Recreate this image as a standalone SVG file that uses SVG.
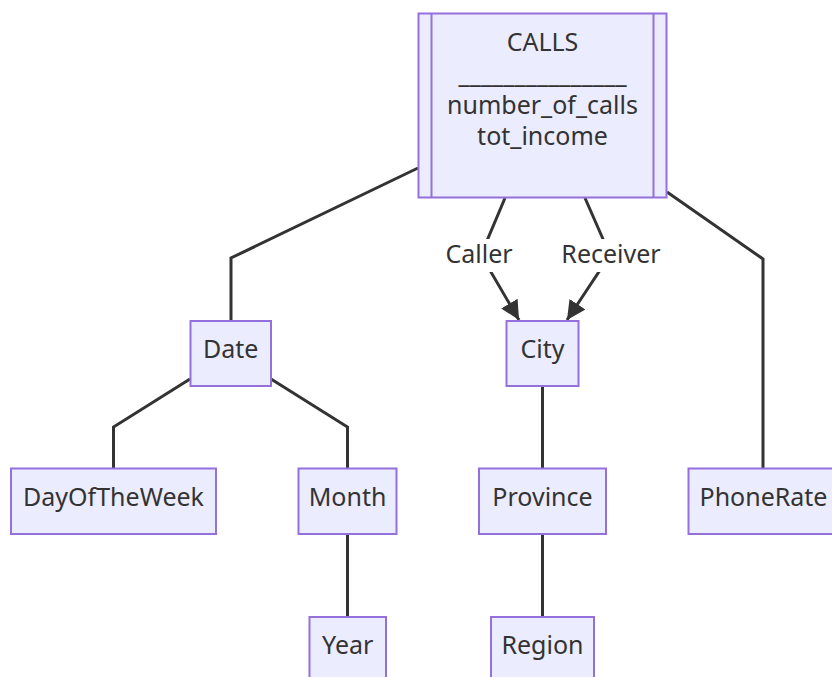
<svg xmlns="http://www.w3.org/2000/svg" width="832" height="677" viewBox="0 0 832 677">
<style>
.node rect{fill:#ECECFF;stroke:#9370DB;stroke-width:2}
.node line{stroke:#9370DB;stroke-width:2}
text{font-family:"Noto Sans","Liberation Sans",sans-serif;font-size:25px;fill:#333;text-anchor:middle}
.edge{fill:none;stroke:#333;stroke-width:3}
.lblbg{fill:#fff}
</style>
<defs>
<marker id="arrow" viewBox="0 0 10 10" refX="10" refY="5" markerUnits="userSpaceOnUse" markerWidth="19" markerHeight="19" orient="auto">
<path d="M0,0 L10,5 L0,10 z" fill="#333"/>
</marker>
</defs>
<rect width="832" height="677" fill="#fff"/>
<g id="connectors">
<polyline class="edge" points="418,168 231,258 231,321"/>
<polyline class="edge" points="667,192 763,259 763,468"/>
<polyline class="edge" points="190,379 113.5,427 113.5,468"/>
<polyline class="edge" points="271,379 347.5,427 347.5,468"/>
<line class="edge" x1="347.5" y1="534" x2="347.5" y2="617"/>
<line class="edge" x1="542.5" y1="386" x2="542.5" y2="468"/>
<line class="edge" x1="542.5" y1="534" x2="542.5" y2="617"/>
<path class="edge" d="M505,198 L481,255 L519,320" marker-end="url(#arrow)"/>
<path class="edge" d="M585,198 L610,255 L567,320" marker-end="url(#arrow)"/>
<g id="label-caller">
<rect class="lblbg" x="443" y="239" width="72" height="33"/>
<text x="479" y="263">Caller</text>
</g>
<g id="label-receiver">
<rect class="lblbg" x="560" y="239" width="102" height="33"/>
<text x="611" y="263">Receiver</text>
</g>
</g>
<g id="CALLS" class="node">
<rect x="418.5" y="13.5" width="248" height="184"/>
<line x1="431.5" y1="13.5" x2="431.5" y2="197.5"/>
<line x1="653.5" y1="13.5" x2="653.5" y2="197.5"/>
<text x="542.5" y="51">CALLS</text>
<text x="542.5" y="83" textLength="168" lengthAdjust="spacing">_______________</text>
<text x="542.5" y="114">number_of_calls</text>
<text x="542.5" y="145">tot_income</text>
</g>
<g id="Date" class="node">
<rect x="190.5" y="321" width="80.5" height="65"/>
<text x="230.75" y="358">Date</text>
</g>
<g id="City" class="node">
<rect x="506.5" y="321" width="72" height="65"/>
<text x="542.5" y="358">City</text>
</g>
<g id="DayOfTheWeek" class="node">
<rect x="11" y="468.5" width="205" height="65.5"/>
<text x="113.5" y="506">DayOfTheWeek</text>
</g>
<g id="Month" class="node">
<rect x="298.5" y="468.5" width="98" height="65.5"/>
<text x="347.5" y="506">Month</text>
</g>
<g id="Province" class="node">
<rect x="479" y="468.5" width="127" height="65.5"/>
<text x="542.5" y="506">Province</text>
</g>
<g id="PhoneRate" class="node">
<rect x="688.5" y="468.5" width="150" height="65.5"/>
<text x="763.5" y="506">PhoneRate</text>
</g>
<g id="Year" class="node">
<rect x="309.5" y="617" width="76.5" height="65"/>
<text x="347.75" y="654">Year</text>
</g>
<g id="Region" class="node">
<rect x="491" y="617" width="103" height="65"/>
<text x="542.5" y="654">Region</text>
</g>
</svg>
